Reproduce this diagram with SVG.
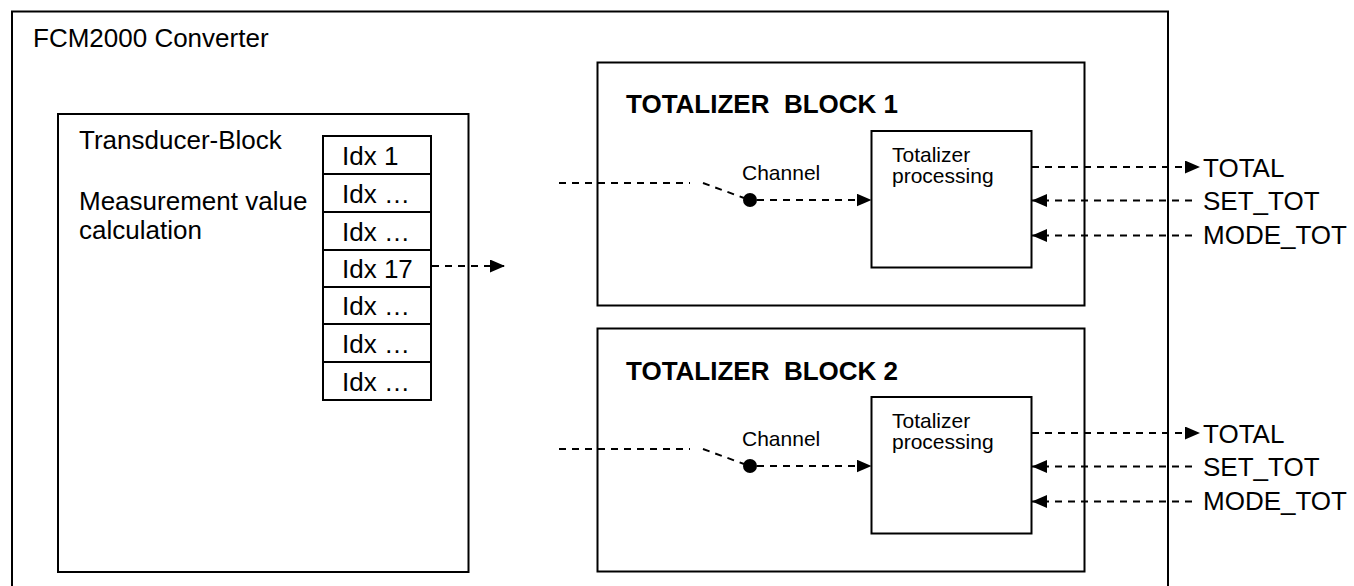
<svg xmlns="http://www.w3.org/2000/svg" width="1354" height="586" viewBox="0 0 1354 586">
  <style>
    .box{fill:#fff;stroke:#000;stroke-width:2}
    .frame{fill:none;stroke:#000;stroke-width:2}
    .t{font-family:"Liberation Sans",Arial,sans-serif;font-size:26px;fill:#000}
    .b{font-weight:bold}
    .s{font-size:21px}
    .dash{fill:none;stroke:#000;stroke-width:2;stroke-dasharray:7 6}
  </style>
  <defs>
    <marker id="arrow" markerUnits="userSpaceOnUse" markerWidth="16" markerHeight="13" refX="15" refY="6.5" orient="auto">
      <path d="M0,0 L15,6.5 L0,13 Z" fill="#000"/>
    </marker>
  </defs>

  <rect width="1354" height="586" fill="#fff"/>

  <!-- converter housing, runs past the bottom edge -->
  <g id="converter">
    <path class="frame" d="M12,600 V11.5 H1168 V600"/>
    <text class="t" x="33" y="47">FCM2000 Converter</text>
  </g>

  <!-- transducer block with its index table -->
  <g id="transducer-block">
    <rect class="box" x="58" y="114" width="410.5" height="458"/>
    <text class="t" x="79" y="149">Transducer-Block</text>
    <text class="t" x="79" y="210">Measurement value</text>
    <text class="t" x="79" y="239">calculation</text>
  </g>

  <g id="index-table">
    <rect class="box" x="323" y="136" width="108" height="38"/>
    <rect class="box" x="323" y="174" width="108" height="38"/>
    <rect class="box" x="323" y="212" width="108" height="38"/>
    <rect class="box" x="323" y="250" width="108" height="37"/>
    <rect class="box" x="323" y="287" width="108" height="37"/>
    <rect class="box" x="323" y="324" width="108" height="38"/>
    <rect class="box" x="323" y="362" width="108" height="38"/>
    <text class="t" x="342" y="165">Idx 1</text>
    <text class="t" x="342" y="203">Idx …</text>
    <text class="t" x="342" y="241">Idx …</text>
    <text class="t" x="342" y="278">Idx 17</text>
    <text class="t" x="342" y="315">Idx …</text>
    <text class="t" x="342" y="353">Idx …</text>
    <text class="t" x="342" y="391">Idx …</text>
  </g>

  <!-- totalizer block 1 -->
  <g id="totalizer-block-1">
    <rect class="box" x="597.5" y="62.5" width="487" height="243"/>
    <text class="t b" x="626" y="113" xml:space="preserve">TOTALIZER  BLOCK 1</text>
    <text class="t s" x="742" y="180">Channel</text>
    <circle cx="750" cy="200" r="7" fill="#000"/>
  </g>
  <g id="totalizer-processing-1">
    <rect class="box" x="871.5" y="131" width="160" height="136.5"/>
    <text class="t s" x="892" y="162">Totalizer</text>
    <text class="t s" x="892" y="183">processing</text>
  </g>

  <!-- totalizer block 2 -->
  <g id="totalizer-block-2">
    <rect class="box" x="597.5" y="328.5" width="487" height="243"/>
    <text class="t b" x="626" y="380" xml:space="preserve">TOTALIZER  BLOCK 2</text>
    <text class="t s" x="742" y="446">Channel</text>
    <circle cx="750" cy="466" r="7" fill="#000"/>
  </g>
  <g id="totalizer-processing-2">
    <rect class="box" x="871.5" y="397" width="160" height="136.5"/>
    <text class="t s" x="892" y="428">Totalizer</text>
    <text class="t s" x="892" y="449">processing</text>
  </g>

  <!-- external parameters -->
  <g id="io-labels">
    <text class="t" x="1203" y="177">TOTAL</text>
    <text class="t" x="1203" y="210">SET_TOT</text>
    <text class="t" x="1203" y="244">MODE_TOT</text>
    <text class="t" x="1203" y="443">TOTAL</text>
    <text class="t" x="1203" y="476">SET_TOT</text>
    <text class="t" x="1203" y="510">MODE_TOT</text>
  </g>

  <g id="connectors">
    <path class="dash" d="M432,266 H505" marker-end="url(#arrow)"/>

    <path class="dash" d="M559,183 H690"/>
    <path class="dash" d="M703,183 L744,198"/>
    <path class="dash" d="M757,200 H871.5" marker-end="url(#arrow)"/>
    <path class="dash" d="M1032,167 H1200" marker-end="url(#arrow)"/>
    <path class="dash" d="M1192,200.5 H1032" marker-end="url(#arrow)"/>
    <path class="dash" d="M1192,235.5 H1032" marker-end="url(#arrow)"/>

    <path class="dash" d="M559,449 H690"/>
    <path class="dash" d="M703,449 L744,464"/>
    <path class="dash" d="M757,466 H871.5" marker-end="url(#arrow)"/>
    <path class="dash" d="M1032,433 H1200" marker-end="url(#arrow)"/>
    <path class="dash" d="M1192,466.5 H1032" marker-end="url(#arrow)"/>
    <path class="dash" d="M1192,501.5 H1032" marker-end="url(#arrow)"/>
  </g>
</svg>
